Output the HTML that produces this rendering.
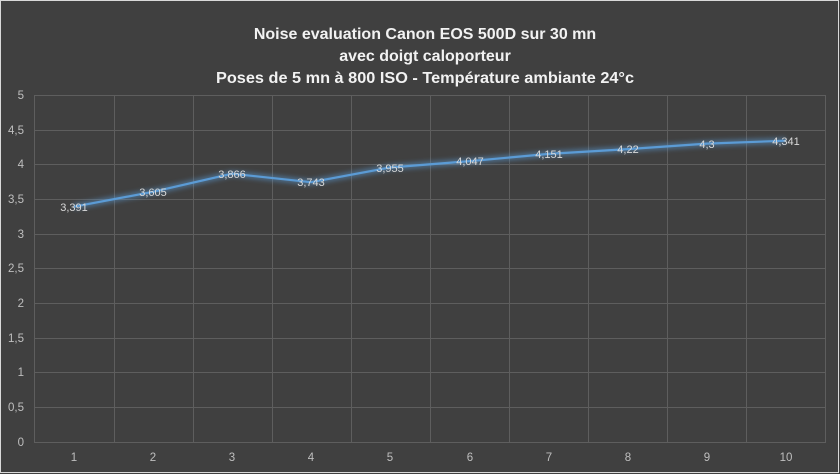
<!DOCTYPE html>
<html><head><meta charset="utf-8"><style>
html,body{margin:0;padding:0;background:#404040;}
svg{display:block;}
text{font-family:"Liberation Sans",sans-serif;}
</style></head><body>
<svg width="840" height="474" viewBox="0 0 840 474">
<defs><filter id="g" x="-10%" y="-50%" width="120%" height="200%"><feGaussianBlur stdDeviation="2.5"/></filter></defs>
<rect x="0" y="0" width="840" height="474" fill="#404040"/>
<rect x="0.5" y="0.5" width="838" height="472" fill="none" stroke="#d9d9d9" stroke-width="1"/>
<g text-anchor="middle" fill="#f2f2f2" font-size="16" font-weight="bold">
<text x="425" y="39">Noise evaluation Canon EOS 500D sur 30 mn</text>
<text x="425" y="61">avec doigt caloporteur</text>
<text x="425" y="83" textLength="418" lengthAdjust="spacingAndGlyphs">Poses de 5 mn à 800 ISO - Température ambiante 24°c</text>
</g>
<g stroke="#5e5e5e" stroke-width="1">
<line x1="34" y1="95.5" x2="826" y2="95.5"/><line x1="34" y1="130.5" x2="826" y2="130.5"/>
<line x1="34" y1="164.5" x2="826" y2="164.5"/><line x1="34" y1="199.5" x2="826" y2="199.5"/>
<line x1="34" y1="234.5" x2="826" y2="234.5"/><line x1="34" y1="268.5" x2="826" y2="268.5"/>
<line x1="34" y1="303.5" x2="826" y2="303.5"/><line x1="34" y1="338.5" x2="826" y2="338.5"/>
<line x1="34" y1="372.5" x2="826" y2="372.5"/><line x1="34" y1="407.5" x2="826" y2="407.5"/>
<line x1="34" y1="442.5" x2="826" y2="442.5"/>
<line x1="34.5" y1="95" x2="34.5" y2="442"/><line x1="114.5" y1="95" x2="114.5" y2="442"/>
<line x1="193.5" y1="95" x2="193.5" y2="442"/><line x1="272.5" y1="95" x2="272.5" y2="442"/>
<line x1="351.5" y1="95" x2="351.5" y2="442"/><line x1="430.5" y1="95" x2="430.5" y2="442"/>
<line x1="509.5" y1="95" x2="509.5" y2="442"/><line x1="588.5" y1="95" x2="588.5" y2="442"/>
<line x1="667.5" y1="95" x2="667.5" y2="442"/><line x1="746.5" y1="95" x2="746.5" y2="442"/>
<line x1="825.5" y1="95" x2="825.5" y2="442"/>
</g>
<g fill="#bfbfbf" font-size="11.5" text-anchor="end">
<text x="24" y="99">5</text><text x="24" y="134">4,5</text><text x="24" y="168">4</text>
<text x="24" y="203">3,5</text><text x="24" y="238">3</text><text x="24" y="272">2,5</text>
<text x="24" y="307">2</text><text x="24" y="342">1,5</text><text x="24" y="376">1</text>
<text x="24" y="411">0,5</text><text x="24" y="446">0</text>
</g>
<g fill="#bfbfbf" font-size="11.5" text-anchor="middle">
<text x="74" y="461">1</text><text x="153" y="461">2</text><text x="232" y="461">3</text>
<text x="311" y="461">4</text><text x="390" y="461">5</text><text x="470" y="461">6</text>
<text x="549" y="461">7</text><text x="628" y="461">8</text><text x="707" y="461">9</text>
<text x="786" y="461">10</text>
</g>
<polyline points="74,206.7 153,191.8 232,173.7 311,182.2 390,167.5 470,161.1 549,153.9 628,149.1 707,143.6 786,140.7" fill="none" stroke="#5b9bd5" stroke-width="6" opacity="0.5" filter="url(#g)"/>
<polyline points="74,206.7 153,191.8 232,173.7 311,182.2 390,167.5 470,161.1 549,153.9 628,149.1 707,143.6 786,140.7" fill="none" stroke="#5b9bd5" stroke-width="2.2" stroke-linejoin="round"/>
<g fill="#d9d9d9" font-size="11" text-anchor="middle">
<text x="74" y="211">3,391</text><text x="153" y="196">3,605</text><text x="232" y="178">3,866</text>
<text x="311" y="186">3,743</text><text x="390" y="172">3,955</text><text x="470" y="165">4,047</text>
<text x="549" y="158">4,151</text><text x="628" y="153">4,22</text><text x="707" y="148">4,3</text>
<text x="786" y="145">4,341</text>
</g>
</svg>
</body></html>
